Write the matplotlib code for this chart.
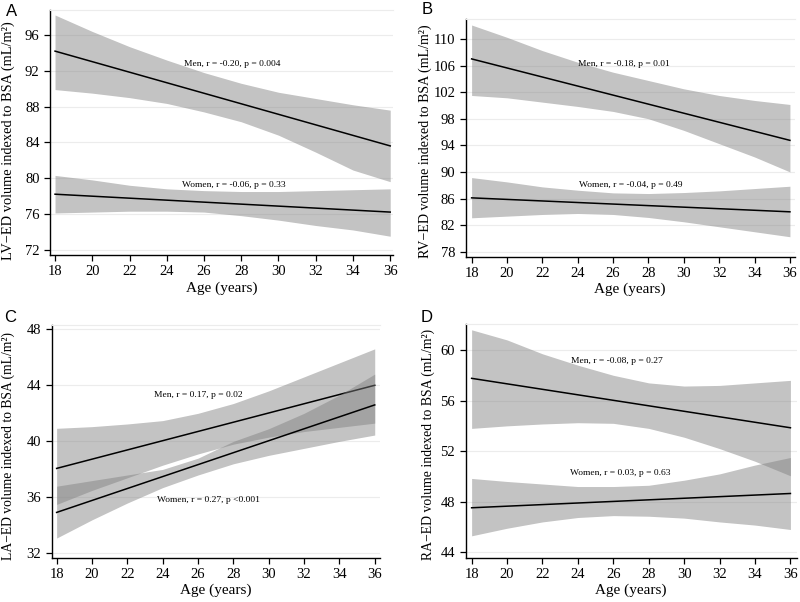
import numpy as np
import matplotlib
matplotlib.use("Agg")
import matplotlib.pyplot as plt

ages = [18, 20, 22, 24, 26, 28, 30, 32, 34, 36]
fit_ages = [18, 36]

# Panel A - LV
lv_men_fit = [94.2, 83.6]
lv_men_hi = [98.24, 96.4, 94.7, 93.2, 91.8, 90.6, 89.6, 88.9, 88.2, 87.6]
lv_men_lo = [89.9, 89.5, 89.0, 88.35, 87.4, 86.3, 84.8, 82.9, 80.9, 79.6]
lv_women_fit = [78.2, 76.2]
lv_women_hi = [80.3, 79.8, 79.2, 78.8, 78.6, 78.5, 78.5, 78.6, 78.7, 78.8]
lv_women_lo = [76.1, 76.2, 76.3, 76.3, 76.2, 75.8, 75.3, 74.7, 74.2, 73.5]

# Panel B - RV
rv_men_fit = [107.0, 94.75]
rv_men_hi = [112.1, 110.25, 108.25, 106.5, 105.0, 103.75, 102.5, 101.5, 100.75, 100.15]
rv_men_lo = [101.5, 101.15, 100.5, 99.85, 99.1, 98.0, 96.25, 94.25, 92.25, 90.0]
rv_women_fit = [86.1, 84.0]
rv_women_hi = [89.15, 88.5, 87.75, 87.25, 86.85, 86.75, 86.9, 87.15, 87.5, 87.85]
rv_women_lo = [83.1, 83.35, 83.6, 83.75, 83.6, 83.15, 82.5, 81.75, 81.0, 80.25]

# Panel C - LA
la_men_fit = [38.07, 44.0]
la_men_hi = [40.93, 41.05, 41.24, 41.48, 42.0, 42.7, 43.6, 44.6, 45.6, 46.6]
la_men_lo = [35.5, 36.5, 37.4, 38.3, 39.1, 39.8, 40.3, 40.7, 41.0, 41.3]
la_women_fit = [34.93, 42.6]
la_women_hi = [36.8, 37.2, 37.6, 38.0, 38.8, 40.0, 40.9, 42.0, 43.3, 44.8]
la_women_lo = [33.1, 34.4, 35.6, 36.7, 37.6, 38.4, 39.0, 39.5, 40.0, 40.45]

# Panel D - RA
ra_men_fit = [57.76, 53.85]
ra_men_hi = [61.6, 60.8, 59.7, 58.8, 58.0, 57.4, 57.15, 57.2, 57.4, 57.6]
ra_men_lo = [53.8, 54.0, 54.15, 54.25, 54.2, 53.8, 53.1, 52.2, 51.2, 50.05]
ra_women_fit = [47.52, 48.65]
ra_women_hi = [49.84, 49.6, 49.4, 49.2, 49.2, 49.3, 49.7, 50.2, 50.9, 51.5]
ra_women_lo = [45.3, 45.9, 46.4, 46.75, 46.9, 46.85, 46.7, 46.4, 46.15, 45.8]

serif = "Liberation Serif"
band_color = "#808080"
band_alpha = 0.47

W, H = 800, 602
fig = plt.figure(figsize=(W / 100, H / 100), dpi=100)


def draw_panel(rect, letter, letter_xy, ylabel, label_size, label_pos,
               xlim, ylim, yticks, men, women, men_text, women_text):
    """Draw one panel: two fitted lines with their confidence bands."""
    ax = fig.add_axes(rect)

    # men first, women band goes over the top of the men line
    for fit, hi, lo, (tx, ty, txt) in ((men[0], men[1], men[2], men_text),
                                       (women[0], women[1], women[2], women_text)):
        ax.fill_between(ages, lo, hi, color=band_color, alpha=band_alpha,
                        linewidth=0, zorder=2)
        ax.plot(fit_ages, fit, color="black", linewidth=1.1, zorder=2)
        ax.text(tx, ty, txt, ha="center", va="center", fontsize=6.8,
                family=serif, zorder=4)

    ax.set_xlim(xlim)
    ax.set_ylim(ylim)
    ax.set_xticks(np.arange(18, 37, 2))
    ax.set_yticks(yticks)
    ax.grid(axis="y", color="#ececec", linewidth=0.8, zorder=0)
    ax.set_axisbelow(True)

    ax.spines["right"].set_visible(False)
    ax.spines["top"].set_color("#ececec")
    for side in ("left", "bottom"):
        ax.spines[side].set_linewidth(1.0)
    ax.tick_params(direction="out", length=4, width=0.9, labelsize=10.5)
    for lab in ax.get_xticklabels() + ax.get_yticklabels():
        lab.set_family(serif)

    ax.set_xlabel("Age (years)", fontsize=11, family=serif, labelpad=2)
    ax.set_ylabel(ylabel, fontsize=label_size, family=serif)
    ax.yaxis.set_label_coords(*label_pos)

    # panel letter in the top-left corner (pixel position)
    fig.text(letter_xy[0] / W, 1 - letter_xy[1] / H, letter,
             fontsize=12, family="Liberation Sans", va="center", ha="center")
    return ax


draw_panel([0.0625, 0.5764, 0.429, 0.407], "A", (12, 11),
           "LV\u2212ED volume indexed to BSA (mL/m\u00b2)", 10.4, (-0.102, 0.465),
           (17.73, 36.16), (71.4, 98.8), np.arange(72, 97, 4),
           (lv_men_fit, lv_men_hi, lv_men_lo),
           (lv_women_fit, lv_women_hi, lv_women_lo),
           (27.5, 92.8, "Men, r = -0.20, p = 0.004"),
           (27.6, 79.2, "Women, r = -0.06, p = 0.33"))

draw_panel([0.582, 0.5736, 0.4116, 0.3948], "B", (427, 9),
           "RV\u2212ED volume indexed to BSA (mL/m\u00b2)", 10.1, (-0.102, 0.487),
           (17.66, 36.28), (77.25, 113.0), np.arange(78, 111, 4),
           (rv_men_fit, rv_men_hi, rv_men_lo),
           (rv_women_fit, rv_women_hi, rv_women_lo),
           (26.6, 106.25, "Men, r = -0.18, p = 0.01"),
           (27.0, 88.0, "Women, r = -0.04, p = 0.49"))

draw_panel([0.0646, 0.0736, 0.410, 0.3865], "C", (10, 318),
           "LA\u2212ED volume indexed to BSA (mL/m\u00b2)", 9.8, (-0.112, 0.48),
           (17.72, 36.28), (31.7, 48.3), np.arange(32, 49, 4),
           (la_men_fit, la_men_hi, la_men_lo),
           (la_women_fit, la_women_hi, la_women_lo),
           (26.0, 43.3, "Men, r = 0.17, p = 0.02"),
           (26.6, 35.8, "Women, r = 0.27, p <0.001"))

draw_panel([0.582, 0.0736, 0.414, 0.388], "D", (427, 318),
           "RA\u2212ED volume indexed to BSA (mL/m\u00b2)", 9.95, (-0.093, 0.487),
           (17.66, 36.36), (43.57, 62.05), np.arange(44, 61, 4),
           (ra_men_fit, ra_men_hi, ra_men_lo),
           (ra_women_fit, ra_women_hi, ra_women_lo),
           (26.2, 59.16, "Men, r = -0.08, p = 0.27"),
           (26.4, 50.3, "Women, r = 0.03, p = 0.63"))

fig.savefig("out.png", dpi=100)
